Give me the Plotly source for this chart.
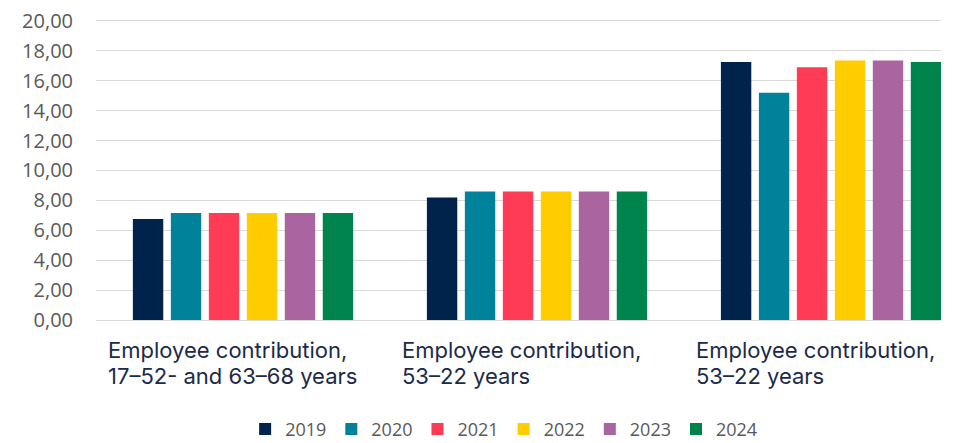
import plotly.graph_objects as go

CATEGORIES = ["c1", "c2", "c3"]
CATEGORY_LABELS = [
    ["Employee contribution,", "17–52- and 63–68 years"],
    ["Employee contribution,", "53–22 years"],
    ["Employee contribution,", "53–22 years"],
]
YEARS = ["2019", "2020", "2021", "2022", "2023", "2024"]
VALUES = {
    "2019": [6.75, 8.20, 17.25],
    "2020": [7.15, 8.60, 15.20],
    "2021": [7.15, 8.60, 16.90],
    "2022": [7.15, 8.60, 17.35],
    "2023": [7.15, 8.60, 17.35],
    "2024": [7.15, 8.60, 17.25],
}
Y_TICKS = [0, 2, 4, 6, 8, 10, 12, 14, 16, 18, 20]
Y_TICK_LABELS = ["0,00", "2,00", "4,00", "6,00", "8,00", "10,00",
                 "12,00", "14,00", "16,00", "18,00", "20,00"]

COLORS = {
    "2019": "#00234B",
    "2020": "#00829B",
    "2021": "#FF3B55",
    "2022": "#FFCC00",
    "2023": "#AA64A0",
    "2024": "#00844E",
}
GRAY_TEXT = "#595959"
NAVY_TEXT = "#1B2A4A"

fig = go.Figure()
for year in YEARS:
    fig.add_trace(
        go.Bar(
            x=CATEGORIES,
            y=VALUES[year],
            name=year,
            marker_color=COLORS[year],
            marker_line_width=0,
            cliponaxis=True,
        )
    )

# category labels: left aligned block under each group, tight line pitch
for cat, lines in zip(CATEGORIES, CATEGORY_LABELS):
    for i, line in enumerate(lines):
        fig.add_annotation(
            x=cat,
            y=0,
            xref="x",
            yref="y",
            text=line,
            showarrow=False,
            xanchor="left",
            yanchor="middle",
            xshift=-136,
            yshift=-29.5 - 26 * i,
            height=26,
            borderpad=0,
            font=dict(family="Inter", size=22, color=NAVY_TEXT),
        )

# page body has an 8px margin, so the figure is 8px smaller on each side
fig.update_layout(
    width=956,
    height=435,
    margin=dict(l=88, r=23, t=11, b=123, autoexpand=False),
    plot_bgcolor="white",
    paper_bgcolor="white",
    barmode="group",
    bargap=0.225,
    bargroupgap=0.2,
    font=dict(family="Open Sans", size=18, color=GRAY_TEXT),
    legend=dict(
        orientation="h",
        x=0.483,
        xanchor="center",
        y=-0.302,
        yanchor="top",
        font=dict(size=18, color=GRAY_TEXT),
        itemwidth=30,
        traceorder="normal",
    ),
    showlegend=True,
)
# the right-hand group runs up against the edge of the plot area
fig.update_xaxes(range=[-0.5, 2.374], showticklabels=False, showgrid=False,
                 showline=False, ticks="", automargin=False)
# a little headroom above 20 so the top gridline is not dropped at the edge
fig.update_yaxes(
    range=[0, 20.13],
    tickvals=Y_TICKS,
    ticktext=Y_TICK_LABELS,
    showgrid=True,
    gridcolor="#D9D9D9",
    gridwidth=1,
    zeroline=True,
    zerolinecolor="#D9D9D9",
    zerolinewidth=1,
    ticks="",
    automargin=False,
    ticklabeloverflow="allow",
    ticklabelstandoff=22,
    tickfont=dict(size=20, color=GRAY_TEXT),
)

fig.write_html("out.html")
